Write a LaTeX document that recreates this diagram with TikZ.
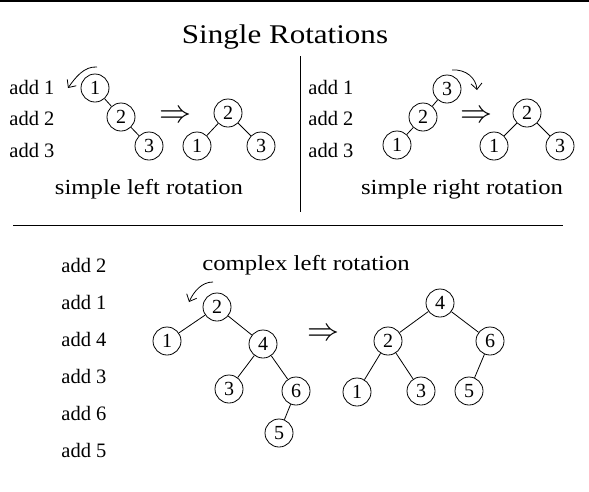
\RequirePackage{fix-cm}
\documentclass[tikz,border=0pt]{standalone}
\usepackage{fontspec}
\setmainfont{Liberation Serif}
\newfontfamily\headfont[FakeStretch=1.15]{Liberation Serif}
\usepackage{tikz}
\usetikzlibrary{arrows.meta}

\begin{document}
\begin{tikzpicture}[x=1pt,y=-1pt,line width=0.8pt,
  key/.style={circle,draw,minimum size=28pt,inner sep=0pt,font=\fontsize{20}{20}\selectfont},
  addlbl/.style={anchor=base west,inner sep=0pt,font=\fontsize{20.5}{20}\selectfont},
  caption/.style={anchor=base,inner sep=0pt,font=\headfont\fontsize{21.5}{21.5}\selectfont},
  turn/.style={-{Straight Barb[length=6pt,width=11pt]}},
  thenarrow/.style={inner sep=0pt,font=\fontsize{32}{32}\selectfont}]
% AVL single and double rotations: insertion order on the left of
% each panel, the tree before and after the rotation on the right.
\useasboundingbox (0,0) rectangle (589,491);
\draw[line width=1.5pt] (0,0.75) -- (589,0.75);
\node[caption,font=\headfont\fontsize{27}{27}\selectfont] (title) at (285,43) {Single Rotations};
\draw (13,225) -- (563,225);
\draw (300,56) -- (300,212);

% left panel
\foreach \n/\y in {1/94, 2/125, 3/157} {
  \node[addlbl] (la\n) at (9,\y) {add \n};
}
\node[key] (l1) at (95,88) {1};
\node[key] (l2) at (121,117) {2};
\node[key] (l3) at (149,146) {3};
\draw (l1) -- (l2) -- (l3);
\node[thenarrow] (lgo) at (175,117) {$\Rightarrow$};
\node[key] (m2) at (228,113) {2};
\node[key] (m1) at (197,146) {1};
\node[key] (m3) at (261,146) {3};
\draw (m1) -- (m2) -- (m3);
\node[caption] (lcap) at (149,194) {simple left rotation};
\coordinate (lt0) at (97,67);
\coordinate (lt1) at (68,88);
\draw[turn] (lt0) .. controls (84,66) and (75,78) .. (lt1);

% right panel
\foreach \n/\y in {1/94, 2/125, 3/157} {
  \node[addlbl] (ra\n) at (308,\y) {add \n};
}
\node[key] (r3) at (447,89) {3};
\node[key] (r2) at (423,117) {2};
\node[key] (r1) at (397,145) {1};
\draw (r1) -- (r2) -- (r3);
\node[thenarrow] (rgo) at (476,117) {$\Rightarrow$};
\node[key] (s2) at (527,113) {2};
\node[key] (s1) at (494,146) {1};
\node[key] (s3) at (560,146) {3};
\draw (s1) -- (s2) -- (s3);
\node[caption] (rcap) at (462,194) {simple right rotation};
\coordinate (rt0) at (452,70);
\coordinate (rt1) at (477,90);
\draw[turn] (rt0) .. controls (466,69) and (476,78) .. (rt1);

% lower panel
\foreach \n [count=\i] in {2, 1, 4, 3, 6, 5} {
  \node[addlbl] (ba\n) at (61,{235+37*\i}) {add \n};
}
\node[caption,anchor=base west] (bcap) at (202,270) {complex left rotation};
\node[key] (b2) at (217,307) {2};
\node[key] (b1) at (167,341) {1};
\node[key] (b4) at (263,344) {4};
\node[key] (b3) at (229,389) {3};
\node[key] (b6) at (296,391) {6};
\node[key] (b5) at (279,433) {5};
\draw (b1) -- (b2) -- (b4) -- (b3);
\draw (b4) -- (b6) -- (b5);
\node[thenarrow] (bgo) at (323,335) {$\Rightarrow$};
\node[key] (c4) at (440,303) {4};
\node[key] (c2) at (388,341) {2};
\node[key] (c6) at (490,341) {6};
\node[key] (c1) at (357,392) {1};
\node[key] (c3) at (421,391) {3};
\node[key] (c5) at (469,391) {5};
\draw (c1) -- (c2) -- (c3);
\draw (c2) -- (c4) -- (c6) -- (c5);
\coordinate (bt0) at (213,282);
\coordinate (bt1) at (189,302);
\draw[turn] (bt0) .. controls (202,282) and (194,291) .. (bt1);
\end{tikzpicture}
\end{document}
